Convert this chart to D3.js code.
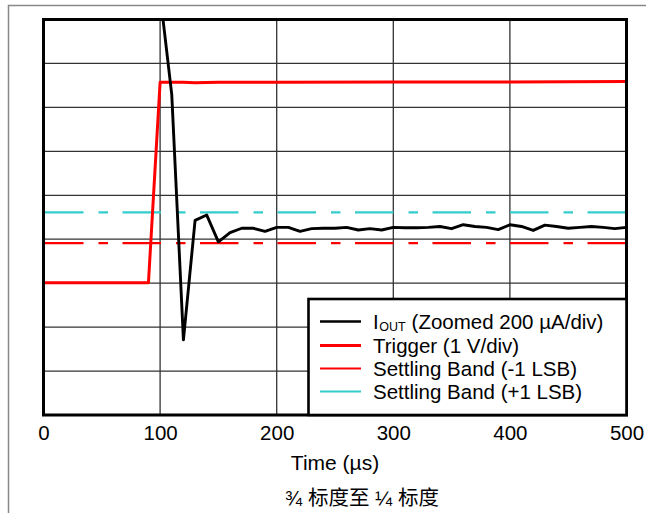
<!DOCTYPE html>
<html>
<head>
<meta charset="utf-8">
<script src="https://cdn.jsdelivr.net/npm/d3@7/dist/d3.min.js"></script>
<style>
  html, body { margin: 0; padding: 0; background: #fff; }
  svg { display: block; }
  text { font-family: "Liberation Sans", Arial, sans-serif; fill: #000; }
</style>
</head>
<body>
<svg id="chart" width="646" height="513"></svg>
<script>
// ---- data (time in µs, value in vertical divisions from bottom) ----
const xTicks = [0, 100, 200, 300, 400, 500];
const yDivs = [0, 1, 2, 3, 4, 5, 6, 7, 8, 9];
const xLabel = "Time (µs)";
const caption = "¾ 标度至 ¼ 标度";

const ioutT = [100, 110, 120, 130, 140, 150, 160, 170, 180, 190, 200, 210, 220, 230, 240, 250, 260, 270, 280, 290, 300, 310, 320, 330, 340, 350, 360, 370, 380, 390, 400, 410, 420, 430, 440, 450, 460, 470, 480, 490, 500];
const ioutV = [9.57, 7.29, 1.71, 4.43, 4.55, 3.94, 4.15, 4.25, 4.25, 4.18, 4.27, 4.27, 4.18, 4.24, 4.25, 4.25, 4.27, 4.21, 4.24, 4.21, 4.27, 4.26, 4.26, 4.27, 4.29, 4.24, 4.33, 4.29, 4.27, 4.22, 4.33, 4.29, 4.20, 4.32, 4.29, 4.25, 4.27, 4.29, 4.27, 4.24, 4.27];

const trigT = [0, 90, 100, 110, 120, 130, 150, 200, 300, 400, 500];
const trigV = [3.01, 3.01, 7.57, 7.57, 7.57, 7.56, 7.57, 7.57, 7.58, 7.58, 7.59];

const bandLow = 3.91;   // -1 LSB
const bandHigh = 4.61;  // +1 LSB

const legendLabels = ["(Zoomed 200 µA/div)", "Trigger (1 V/div)", "Settling Band (-1 LSB)", "Settling Band (+1 LSB)"];
const colors = { iout: "#000000", trig: "#ff0000", low: "#ff0000", high: "#33cccc" };

// ---- layout ----
const svg = d3.select("#chart");
const L = 43.5, R = 626.5, T = 19.5, B = 415;
const x = d3.scaleLinear().domain([0, 500]).range([L, R]);
const y = d3.scaleLinear().domain([0, 9]).range([B, T]);

// outer frame (left + top)
svg.append("path")
  .attr("d", `M8.5,513 L8.5,5.5 L646,5.5`)
  .attr("fill", "none").attr("stroke", "#888").attr("stroke-width", 1.5);

svg.append("defs").append("clipPath").attr("id", "clip")
  .append("rect").attr("x", L).attr("y", T).attr("width", R - L).attr("height", B - T);

// grid
const grid = svg.append("g");
grid.selectAll("line.v").data(xTicks.slice(1, -1)).enter().append("line")
  .attr("x1", d => x(d)).attr("x2", d => x(d)).attr("y1", T).attr("y2", B)
  .attr("stroke", "#333").attr("stroke-width", 1.3);
grid.selectAll("line.h").data(yDivs.slice(1)).enter().append("line")
  .attr("x1", L).attr("x2", R).attr("y1", d => y(d)).attr("y2", d => y(d))
  .attr("stroke", "#333").attr("stroke-width", 1.3);

const plot = svg.append("g").attr("clip-path", "url(#clip)");
const line = d3.line().x(d => x(d[0])).y(d => y(d[1]));

// settling bands
const dash = "38.5,15,9.5,14.5";
plot.append("path").datum([[0, bandLow], [500, bandLow]]).attr("d", line)
  .attr("stroke", colors.low).attr("stroke-width", 2.2).attr("fill", "none")
  .attr("stroke-dasharray", dash).attr("stroke-dashoffset", -1.5);
plot.append("path").datum([[0, bandHigh], [500, bandHigh]]).attr("d", line)
  .attr("stroke", colors.high).attr("stroke-width", 2.2).attr("fill", "none")
  .attr("stroke-dasharray", dash).attr("stroke-dashoffset", -1.5);

// trigger
plot.append("path").datum(trigT.map((t, i) => [t, trigV[i]])).attr("d", line)
  .attr("stroke", colors.trig).attr("stroke-width", 3).attr("fill", "none")
  .attr("stroke-linejoin", "round");

// iout
plot.append("path").datum(ioutT.map((t, i) => [t, ioutV[i]])).attr("d", line)
  .attr("stroke", colors.iout).attr("stroke-width", 2.9).attr("fill", "none")
  .attr("stroke-linejoin", "round");

// plot frame
svg.append("rect").attr("x", L).attr("y", T).attr("width", R - L).attr("height", B - T)
  .attr("fill", "none").attr("stroke", "#000").attr("stroke-width", 3);

// x axis labels
const xAxis = d3.axisBottom(x).tickValues(xTicks).tickSize(0).tickPadding(0).tickFormat(d3.format("d"));
const ax = svg.append("g").attr("transform", `translate(0,${B})`).call(xAxis);
ax.select(".domain").remove();
ax.selectAll("text").attr("y", 25).attr("dy", null)
  .style("font-size", "20.5px").style("font-family", '"Liberation Sans", Arial, sans-serif').attr("fill", "#000");

svg.append("text").attr("x", (L + R) / 2).attr("y", 470).attr("text-anchor", "middle")
  .style("font-size", "21px").text(xLabel);

svg.append("text").attr("x", 362).attr("y", 505).attr("text-anchor", "middle")
  .style("font-size", "20.5px").style("font-family", '"Liberation Sans", "Noto Sans CJK SC", sans-serif')
  .text(caption);

// legend
const lg = svg.append("g");
lg.append("rect").attr("x", 308.5).attr("y", 299).attr("width", R - 308.5).attr("height", B - 299)
  .attr("fill", "#fff").attr("stroke", "#000").attr("stroke-width", 2.6);
const rowsY = [321.5, 345.5, 368.5, 391.5];
const legColors = [colors.iout, colors.trig, colors.low, colors.high];
const legWidths = [2.6, 3, 2, 2];
rowsY.forEach((ry, i) => {
  lg.append("line").attr("x1", 320).attr("x2", 361).attr("y1", ry).attr("y2", ry)
    .attr("stroke", legColors[i]).attr("stroke-width", legWidths[i]);
  if (i === 0) {
    const tI = lg.append("text").attr("x", 373).attr("y", ry + 7.5).style("font-size", "20.5px").text("I");
    const wI = tI.node().getComputedTextLength();
    const tSub = lg.append("text").attr("x", 373 + wI + 0.5).attr("y", ry + 9.5).style("font-size", "12.5px").text("OUT");
    const wS = tSub.node().getComputedTextLength();
    lg.append("text").attr("x", 373 + wI + 0.5 + wS + 6).attr("y", ry + 7.5).style("font-size", "20.5px")
      .text(legendLabels[0]);
  } else {
    lg.append("text").attr("x", 373).attr("y", ry + 7.5).style("font-size", "20.5px").text(legendLabels[i]);
  }
});
</script>
</body>
</html>
